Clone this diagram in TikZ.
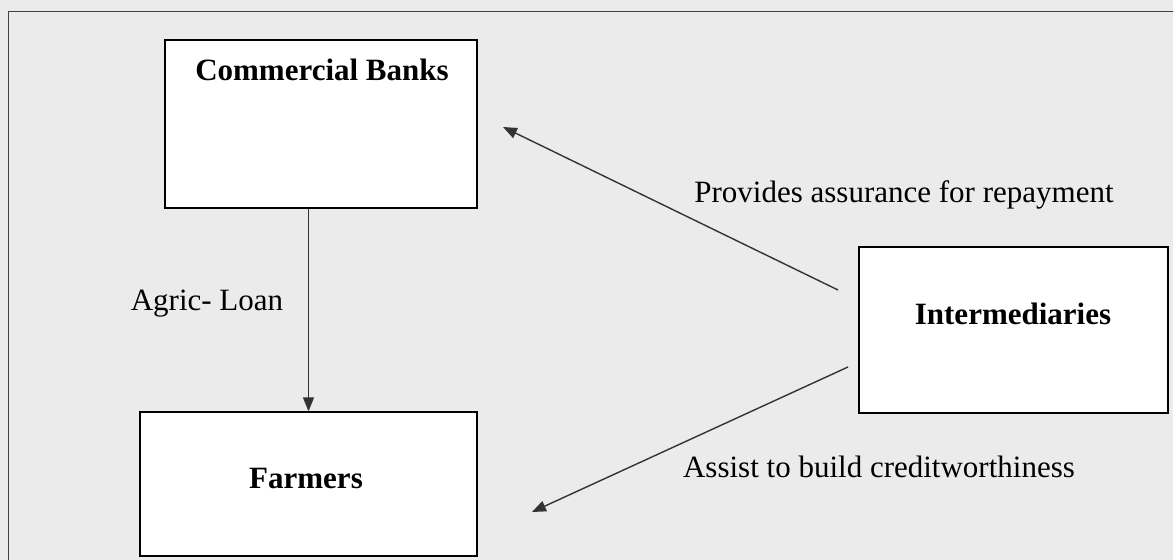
\documentclass[tikz,border=0pt]{standalone}
\usepackage{fontspec}
\setmainfont{Liberation Serif}
\usetikzlibrary{arrows.meta}

\begin{document}
\begin{tikzpicture}[x=.5pt,y=-.5pt,>={Triangle[length=7pt,width=5.5pt]},
  font=\fontsize{15.5}{18}\selectfont,
  box/.style={draw,line width=.6pt,fill=white,inner sep=0pt},
  title/.style={font=\fontsize{15.5}{18}\selectfont\bfseries},
  flow/.style={->,line width=.7pt,black!80}]
  \useasboundingbox[fill=black!8] (0,0) rectangle (1173,560);
  \draw[line width=.5pt,black!75] (8,560) -- (8,12) -- (1173,12);
  % boxes
  \node[box,minimum width=156pt,minimum height=84pt] (cb) at (321,124) {};
  \node[box,minimum width=168.5pt,minimum height=72pt] (fa) at (308.5,484) {};
  \node[box,minimum width=154.5pt,minimum height=83pt] (im) at (1013.5,330) {};
  \node[title] (cbtext) at (322,70) {Commercial Banks};
  \node[title] (fatext) at (306,479) {Farmers};
  \node[title] (imtext) at (1013,314) {Intermediaries};
  % connectors
  \coordinate (upstart) at (838,290);
  \coordinate (upend) at (503,127);
  \coordinate (downstart) at (848,367);
  \coordinate (downend) at (532,512);
  \draw[flow] (fa.north |- cb.south) -- (fa.north);
  \draw[flow] (upstart) -- (upend);
  \draw[flow] (downstart) -- (downend);
  \node (loan) at (207,304) {Agric- Loan};
  \node (assure) at (904,195) {Provides assurance for repayment};
  \node (credit) at (879,467) {Assist to build creditworthiness};
\end{tikzpicture}
\end{document}
